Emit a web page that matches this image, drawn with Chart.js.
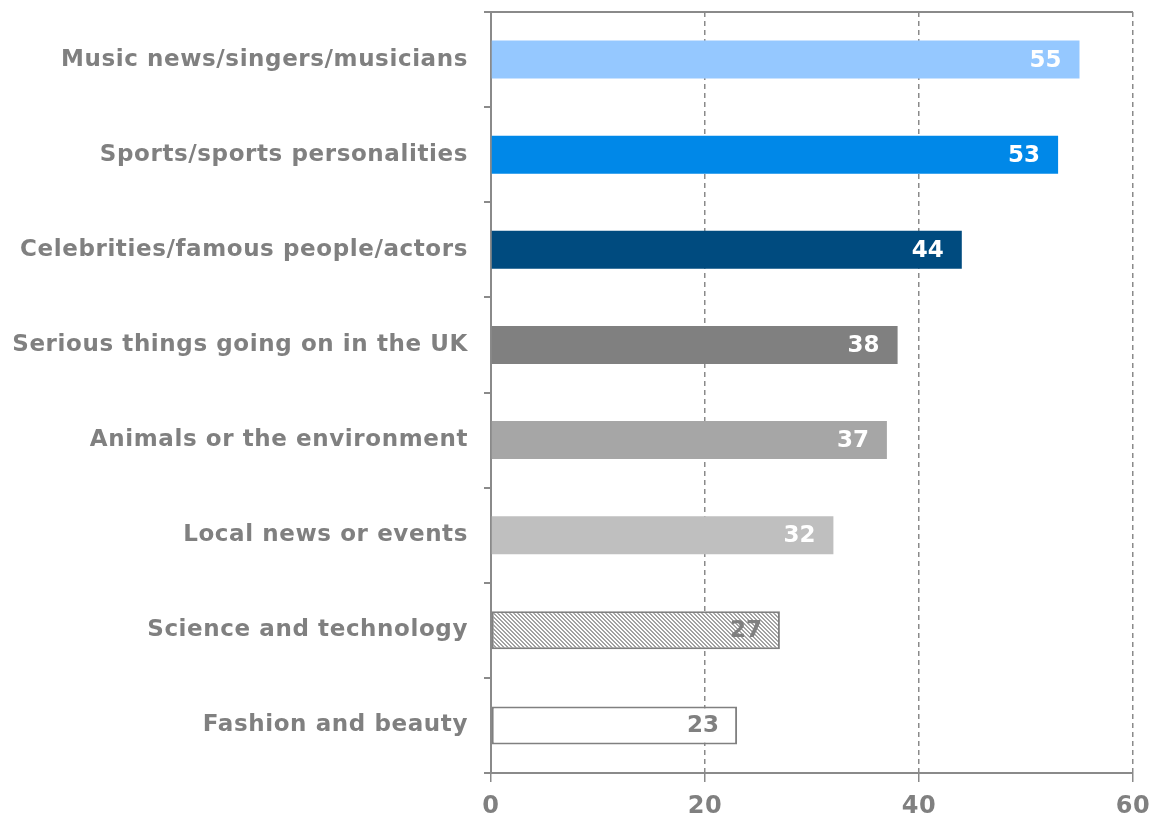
<!DOCTYPE html>
<html>
<head>
<meta charset="utf-8">
<script src="https://cdn.jsdelivr.net/npm/chart.js@4/dist/chart.umd.min.js"></script>
<style>
  html, body { margin: 0; padding: 0; background: #ffffff; }
  #wrap { width: 1151px; height: 815px; position: relative; }
</style>
</head>
<body>
<div id="wrap"><canvas id="c" width="1151" height="815"></canvas></div>
<script>
// Topics of interest (percent)
const categories = [
  'Music news/singers/musicians',
  'Sports/sports personalities',
  'Celebrities/famous people/actors',
  'Serious things going on in the UK',
  'Animals or the environment',
  'Local news or events',
  'Science and technology',
  'Fashion and beauty'
];
const values = [55, 53, 44, 38, 37, 32, 27, 23];
const xTicks = [0, 20, 40, 60];

const GREY = '#808080';
const AXIS = '#8a8a8a';
const FONT = '"DejaVu Sans", Verdana, sans-serif';

// diagonal hatch fill for the science bar
function makeHatch() {
  const c = document.createElement('canvas');
  c.width = 4; c.height = 4;
  const g = c.getContext('2d');
  g.fillStyle = '#ffffff';
  g.fillRect(0, 0, 4, 4);
  g.fillStyle = '#a2a2a2';
  for (let r = 0; r < 4; r++) {
    g.fillRect(r % 4, r, 1, 1);
    g.fillRect((r + 1) % 4, r, 1, 1);
  }
  return g.createPattern(c, 'repeat');
}
const hatch = makeHatch();

const barColors = ['#95c8ff', '#0088e8', '#004b7f', '#808080', '#a6a6a6', '#bfbfbf', hatch, '#ffffff'];
const borderWidths = [0, 0, 0, 0, 0, 0, 2, 2];
const labelColors = ['#ffffff', '#ffffff', '#ffffff', '#ffffff', '#ffffff', '#ffffff', GREY, GREY];

// slightly wider letter spacing for the axis text
const spacing = {
  id: 'spacing',
  beforeDraw(chart) { chart.ctx.letterSpacing = '0.6px'; },
  beforeDatasetsDraw(chart) { chart.ctx.letterSpacing = '0px'; }
};

// value labels inside the end of each bar
const valueLabels = {
  id: 'valueLabels',
  afterDatasetsDraw(chart) {
    const ctx = chart.ctx;
    const meta = chart.getDatasetMeta(0);
    ctx.save();
    ctx.letterSpacing = '0px';
    ctx.font = 'bold 23px ' + FONT;
    ctx.textAlign = 'right';
    ctx.textBaseline = 'middle';
    meta.data.forEach((bar, i) => {
      ctx.fillStyle = labelColors[i];
      ctx.fillText(String(values[i]), bar.x - 18, bar.y + 1);
    });
    ctx.restore();
  }
};

function noPad(scale) {
  scale.paddingTop = 0;
  scale.paddingBottom = 0;
  scale.paddingLeft = 0;
  scale.paddingRight = 0;
}

new Chart(document.getElementById('c'), {
  type: 'bar',
  data: {
    labels: categories,
    datasets: [{
      data: values,
      backgroundColor: barColors,
      borderColor: GREY,
      borderWidth: borderWidths,
      borderSkipped: false,
      categoryPercentage: 1,
      barPercentage: 0.4
    }]
  },
  options: {
    indexAxis: 'y',
    responsive: false,
    animation: false,
    devicePixelRatio: 1,
    layout: { padding: { top: 12, right: 18, left: 0, bottom: 0 } },
    plugins: {
      legend: { display: false },
      tooltip: { enabled: false }
    },
    scales: {
      x: {
        type: 'linear',
        min: 0,
        max: 60,
        afterBuildTicks(scale) { scale.ticks = xTicks.map(v => ({ value: v })); },
        afterFit(scale) { scale.height = 42; noPad(scale); },
        grid: {
          color: c => (c.tick && c.tick.value === 0) ? 'rgba(0,0,0,0)' : AXIS,
          tickColor: AXIS,
          lineWidth: 1.5,
          tickLength: 9,
          tickBorderDash: [1, 0]
        },
        border: { display: true, color: AXIS, width: 2, dash: [5, 4] },
        ticks: {
          color: GREY,
          padding: 10,
          font: { family: FONT, size: 24, weight: 'bold' }
        }
      },
      y: {
        afterFit(scale) { scale.width = 491; noPad(scale); },
        grid: {
          offset: true,
          drawOnChartArea: true,
          color: c => c.index === 0 ? AXIS : 'rgba(0,0,0,0)',
          tickColor: AXIS,
          lineWidth: 2,
          tickLength: 7
        },
        border: { display: true, color: AXIS, width: 2 },
        ticks: {
          color: GREY,
          padding: 16,
          font: { family: FONT, size: 23, weight: 'bold' }
        }
      }
    }
  },
  plugins: [spacing, valueLabels]
});
</script>
</body>
</html>
